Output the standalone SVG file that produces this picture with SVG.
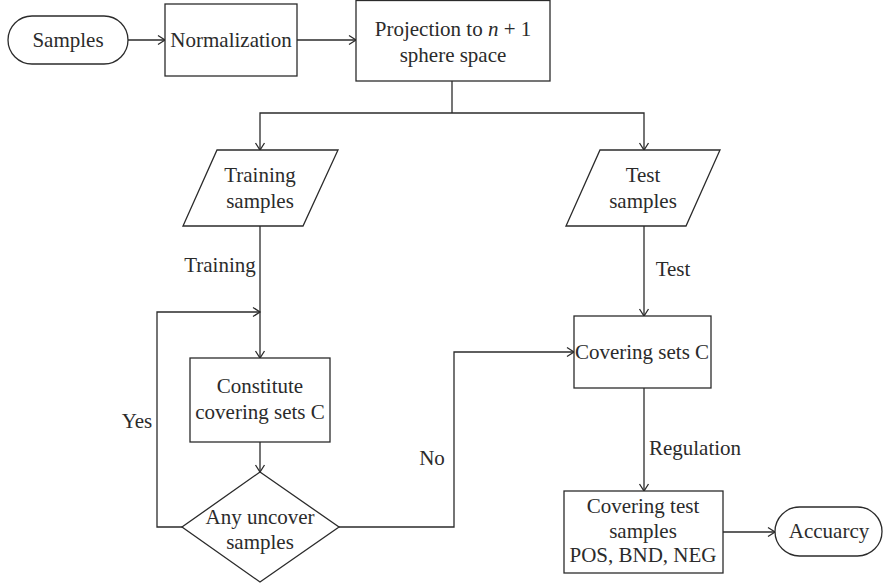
<svg xmlns="http://www.w3.org/2000/svg" width="885" height="586" viewBox="0 0 885 586">
<style>
.s{fill:#fff;stroke:#2b2b2b;stroke-width:1.3}
.c{fill:none;stroke:#2b2b2b;stroke-width:1.3}
text{font-family:"Liberation Serif","Times New Roman",serif;font-size:21px;fill:#2b2b2b;text-anchor:middle}
</style>
<defs>
<marker id="a" markerUnits="userSpaceOnUse" markerWidth="12" markerHeight="12" viewBox="0 0 12 12" refX="10" refY="6" orient="auto">
<path d="M3,1.5 L10,6 L3,10.5" fill="none" stroke="#2b2b2b" stroke-width="1.3"/>
</marker>
</defs>
<rect width="885" height="586" fill="#fff"/>
<g id="connectors">
<path class="c" d="M128,40 H165" marker-end="url(#a)"/>
<path class="c" d="M297,40 H356" marker-end="url(#a)"/>
<path class="c" d="M452,81 V113"/>
<path class="c" d="M452,113 H260 V150" marker-end="url(#a)"/>
<path class="c" d="M452,113 H644 V150" marker-end="url(#a)"/>
<path class="c" d="M260,226 V358" marker-end="url(#a)"/>
<path class="c" d="M260,442 V472" marker-end="url(#a)"/>
<path class="c" d="M182,527 H157 V312 H260" marker-end="url(#a)"/>
<path class="c" d="M339,527 H454 V352 H574" marker-end="url(#a)"/>
<path class="c" d="M644,226 V316" marker-end="url(#a)"/>
<path class="c" d="M644,388 V491" marker-end="url(#a)"/>
<path class="c" d="M723,532 H775" marker-end="url(#a)"/>
<text x="220" y="272">Training</text>
<text x="137" y="428">Yes</text>
<text x="432" y="465">No</text>
<text x="673" y="276">Test</text>
<text x="695" y="455">Regulation</text>
</g>
<g id="samples">
<rect class="s" x="8" y="16" width="120" height="48" rx="24"/>
<text x="68" y="47">Samples</text>
</g>
<g id="normalization">
<rect class="s" x="165" y="4" width="132" height="72"/>
<text x="231" y="47">Normalization</text>
</g>
<g id="projection">
<rect class="s" x="356" y="0.5" width="194" height="80.5"/>
<text x="453" y="36">Projection to <tspan font-style="italic">n</tspan> + 1</text>
<text x="453" y="62">sphere space</text>
</g>
<g id="training-samples">
<path class="s" d="M217,150 H338 L303,226 H183 Z"/>
<text x="260" y="182">Training</text>
<text x="260" y="208">samples</text>
</g>
<g id="test-samples">
<path class="s" d="M600,150 H720 L686,226 H566 Z"/>
<text x="643" y="182">Test</text>
<text x="643" y="208">samples</text>
</g>
<g id="constitute">
<rect class="s" x="190" y="358" width="140" height="84"/>
<text x="260" y="393">Constitute</text>
<text x="260" y="419">covering sets C</text>
</g>
<g id="any-uncover">
<path class="s" d="M260,472 L339,527 L260,582 L182,527 Z"/>
<text x="260" y="524">Any uncover</text>
<text x="260" y="549">samples</text>
</g>
<g id="covering-sets">
<rect class="s" x="574" y="316" width="137" height="72"/>
<text x="642" y="359">Covering sets C</text>
</g>
<g id="covering-test">
<rect class="s" x="564" y="491" width="159" height="82"/>
<text x="643" y="513">Covering test</text>
<text x="643" y="538">samples</text>
<text x="643" y="562">POS, BND, NEG</text>
</g>
<g id="accuarcy">
<rect class="s" x="775" y="507" width="107" height="49" rx="24.5"/>
<text x="829" y="538">Accuarcy</text>
</g>
</svg>
